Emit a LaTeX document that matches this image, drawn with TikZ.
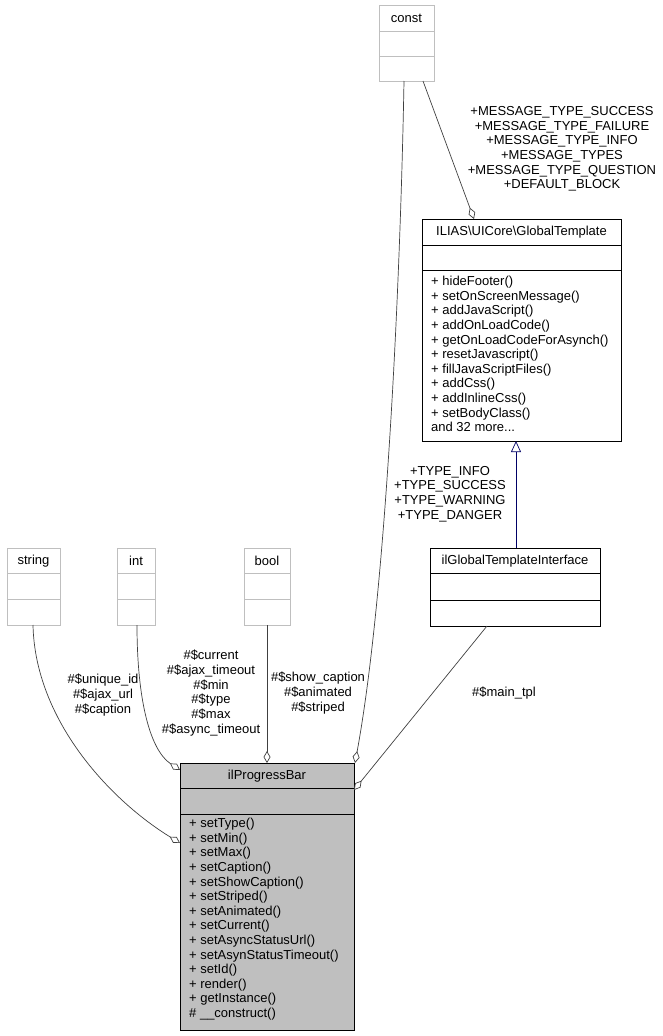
\documentclass[tikz,border=0pt]{standalone}
\usepackage{fontspec}
\setmainfont{Liberation Sans}
\usetikzlibrary{arrows.meta}
\begin{document}
\begin{tikzpicture}[x=1pt,y=-1pt,
  lbl/.style={font=\fontsize{13}{14.7}\selectfont,align=center,inner sep=0},
  mth/.style={font=\fontsize{13}{14.6}\selectfont,align=left,anchor=north west,inner sep=0},
  ttl/.style={font=\fontsize{13}{14}\selectfont,inner sep=0},
  gbox/.style={draw=black!25,line width=0.8pt},
  bbox/.style={draw=black,line width=0.9pt},
  agg/.style={draw=black!75,line width=0.7pt,{Diamond[open,length=12pt,width=7pt,fill=white]}-},
  inh/.style={draw=blue!40!black,line width=0.7pt,-{Triangle[open,length=11pt,width=10pt,fill=white]}}]
\useasboundingbox (0,0) rectangle (663,1036);
% gray type boxes
\foreach \n/\t/\a/\b in {string/string/7/60,int/int/117/155,bool/bool/244/290}{
  \draw[gbox] (\a,548) rectangle (\b,625);
  \draw[gbox] (\a,573) -- (\b,573) (\a,599) -- (\b,599);
  \node[ttl] (\n) at ({(\a+\b)/2},561) {\t};
}
\draw[gbox] (379,5) rectangle (434,81);
\draw[gbox] (379,31) -- (434,31) (379,56) -- (434,56);
\node[ttl] (const) at (406.5,18) {const};
% GlobalTemplate
\draw[bbox,fill=white] (422,219) rectangle (621,441);
\draw[bbox] (422,245) -- (621,245) (422,270) -- (621,270);
\node[ttl] (gt) at (521.5,232) {ILIAS\textbackslash UICore\textbackslash GlobalTemplate};
\node[mth] (gtm) at (431,276) {+ hideFooter()\\+ setOnScreenMessage()\\+ addJavaScript()\\+ addOnLoadCode()\\+ getOnLoadCodeForAsynch()\\+ resetJavascript()\\+ fillJavaScriptFiles()\\+ addCss()\\+ addInlineCss()\\+ setBodyClass()\\and 32 more...};
% Interface
\draw[bbox,fill=white] (430,548) rectangle (600,626);
\draw[bbox] (430,573) -- (600,573) (430,600) -- (600,600);
\node[ttl] (gti) at (515,561) {ilGlobalTemplateInterface};
% ilProgressBar
\draw[bbox,fill=black!25] (180,763) rectangle (354,1030);
\draw[bbox] (180,788) -- (354,788) (180,814) -- (354,814);
\node[ttl] (pb) at (267,776) {ilProgressBar};
\node[mth] (pbm) at (189,818) {+ setType()\\+ setMin()\\+ setMax()\\+ setCaption()\\+ setShowCaption()\\+ setStriped()\\+ setAnimated()\\+ setCurrent()\\+ setAsyncStatusUrl()\\+ setAsynStatusTimeout()\\+ setId()\\+ render()\\+ getInstance()\\\# \_\_construct()};
% connector endpoints
\coordinate (sA) at (33,625); \coordinate (sB) at (180,843);
\coordinate (iA) at (137,625); \coordinate (iB) at (180,770);
\coordinate (bA) at (267,625); \coordinate (bB) at (267,763);
\coordinate (cA) at (404,81); \coordinate (cB) at (355,763);
\coordinate (cC) at (423,81); \coordinate (cD) at (474,219);
\coordinate (gA) at (516,548); \coordinate (gB) at (516,441);
\coordinate (tA) at (487,626); \coordinate (tB) at (354,790);
\draw[agg] (sB) .. controls (110,800) and (35,720) .. (sA);
\draw[agg] (iB) .. controls (150,750) and (137,700) .. (iA);
\draw[agg] (bB) -- (bA);
\draw[agg] (cB) .. controls (385,600) and (400,300) .. (cA);
\draw[agg] (cD) -- (cC);
\draw[inh] (gA) -- (gB);
\draw[agg] (tB) -- (tA);
% labels
\node[lbl] at (103,695) {\#\$unique\_id\\\#\$ajax\_url\\\#\$caption};
\node[lbl] at (211,693) {\#\$current\\\#\$ajax\_timeout\\\#\$min\\\#\$type\\\#\$max\\\#\$async\_timeout};
\node[lbl] at (318,693) {\#\$show\_caption\\\#\$animated\\\#\$striped};
\node[lbl] at (450,494) {+TYPE\_INFO\\+TYPE\_SUCCESS\\+TYPE\_WARNING\\+TYPE\_DANGER};
\node[lbl] at (562,149) {+MESSAGE\_TYPE\_SUCCESS\\+MESSAGE\_TYPE\_FAILURE\\+MESSAGE\_TYPE\_INFO\\+MESSAGE\_TYPES\\+MESSAGE\_TYPE\_QUESTION\\+DEFAULT\_BLOCK};
\node[lbl] at (504,693) {\#\$main\_tpl};
\end{tikzpicture}
\end{document}
